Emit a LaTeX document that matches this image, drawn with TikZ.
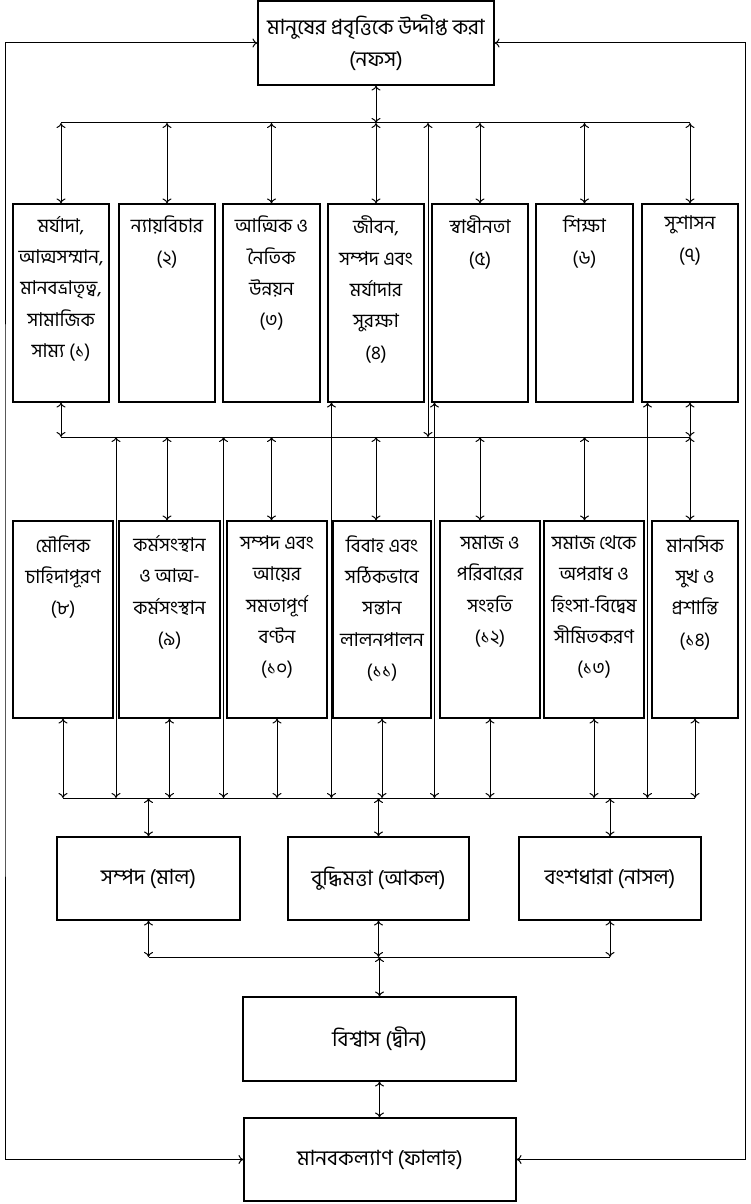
\documentclass[tikz,border=0pt]{standalone}
\usepackage{fontspec}
\newfontfamily\bn[Script=Bengali]{Hind Siliguri}
\usetikzlibrary{arrows.meta,calc}
\begin{document}
\begin{tikzpicture}[x=1pt,y=-1pt,
  >={To[length=5pt,width=9pt]},
  box/.style={draw, line width=1.1pt, inner sep=0pt},
  rowbox/.style={box, minimum height=198pt},
  row2box/.style={box, minimum height=197pt},
  txt/.style={font=\bn\fontsize{19}{31.3}\selectfont, align=center, inner sep=0pt},
  bigtxt/.style={font=\bn\fontsize{21}{32}\selectfont, align=center},
  con/.style={<->, line width=1pt},
  bus/.style={line width=1pt},
]
\useasboundingbox (0,0) rectangle (750,1204);

% top box
\node[box, minimum width=236pt, minimum height=84pt, bigtxt] (top) at (376,43) {মানুষের প্রবৃত্তিকে উদ্দীপ্ত করা\\(নফস)};

% row 1
\node[rowbox, minimum width=96pt] (b1) at (61,303) {};
\node[rowbox, minimum width=96pt] (b2) at (167,303) {};
\node[rowbox, minimum width=97pt] (b3) at (271.5,303) {};
\node[rowbox, minimum width=96pt] (b4) at (376,303) {};
\node[rowbox, minimum width=96pt] (b5) at (480,303) {};
\node[rowbox, minimum width=97pt] (b6) at (584.5,303) {};
\node[rowbox, minimum width=96pt] (b7) at (690,303) {};

\node[txt, anchor=north] (t1) at ($(b1.north)+(0,12.5)$) {মর্যাদা,\\আত্মসম্মান,\\মানবভ্রাতৃত্ব,\\সামাজিক\\সাম্য (১)};
\node[txt, anchor=north] (t2) at ($(b2.north)+(0,12.5)$) {ন্যায়বিচার\\(২)};
\node[txt, anchor=north] (t3) at ($(b3.north)+(0,12.5)$) {আত্মিক ও\\নৈতিক\\উন্নয়ন\\(৩)};
\node[txt, anchor=north] (t4) at ($(b4.north)+(0,12.5)$) {জীবন,\\সম্পদ এবং\\মর্যাদার\\সুরক্ষা\\(৪)};
\node[txt, anchor=north] (t5) at ($(b5.north)+(0,12.5)$) {স্বাধীনতা\\(৫)};
\node[txt, anchor=north] (t6) at ($(b6.north)+(0,12.5)$) {শিক্ষা\\(৬)};
\node[txt, anchor=north] (t7) at ($(b7.north)+(0,12.5)$) {সুশাসন\\(৭)};

% row 2
\node[row2box, minimum width=100pt] (b8) at (63,619.5) {};
\node[row2box, minimum width=101pt] (b9) at (169.5,619.5) {};
\node[row2box, minimum width=100pt] (b10) at (277,619.5) {};
\node[row2box, minimum width=98pt] (b11) at (382,619.5) {};
\node[row2box, minimum width=100pt] (b12) at (490,619.5) {};
\node[row2box, minimum width=100pt] (b13) at (594,619.5) {};
\node[row2box, minimum width=86pt] (b14) at (695,619.5) {};

\node[txt, anchor=north] (t8) at ($(b8.north)+(0,15)$) {মৌলিক\\চাহিদাপূরণ\\(৮)};
\node[txt, anchor=north] (t9) at ($(b9.north)+(0,15)$) {কর্মসংস্থান\\ও আত্ম-\\কর্মসংস্থান\\(৯)};
\node[txt, anchor=north] (t10) at ($(b10.north)+(0,15)$) {সম্পদ এবং\\আয়ের\\সমতাপূর্ণ\\বণ্টন\\(১০)};
\node[txt, anchor=north] (t11) at ($(b11.north)+(0,15)$) {বিবাহ এবং\\সঠিকভাবে\\সন্তান\\লালনপালন\\(১১)};
\node[txt, anchor=north] (t12) at ($(b12.north)+(0,15)$) {সমাজ ও\\পরিবারের\\সংহতি\\(১২)};
\node[txt, anchor=north] (t13) at ($(b13.north)+(0,15)$) {সমাজ থেকে\\অপরাধ ও\\হিংসা-বিদ্বেষ\\সীমিতকরণ\\(১৩)};
\node[txt, anchor=north] (t14) at ($(b14.north)+(0,15)$) {মানসিক\\সুখ ও\\প্রশান্তি\\(১৪)};

% row 3
\node[box, minimum width=183pt, minimum height=83pt, bigtxt] (A) at (148.5,878.5) {সম্পদ (মাল)};
\node[box, minimum width=181pt, minimum height=83pt, bigtxt] (B) at (378.5,878.5) {বুদ্ধিমত্তা (আকল)};
\node[box, minimum width=182pt, minimum height=83pt, bigtxt] (C) at (610,878.5) {বংশধারা (নাসল)};

\node[box, minimum width=273pt, minimum height=84pt, bigtxt] (D) at (379.5,1039) {বিশ্বাস (দ্বীন)};
\node[box, minimum width=272pt, minimum height=83pt, bigtxt] (E) at (380,1159.5) {মানবকল্যাণ (ফালাহ)};

% bus coordinates
\coordinate (tb) at (0,123);
\coordinate (mb) at (0,437);
\coordinate (bb) at (0,798);
\coordinate (lb) at (0,957);
\coordinate (L) at (5,600);
\coordinate (R) at (745,600);

% top connections
\draw[con] (top.south) -- (top.south |- tb);
\draw[bus] (b1.north |- tb) -- (b7.north |- tb);
\foreach \b in {b1,b2,b3,b4,b5,b6,b7} \draw[con] (\b.north |- tb) -- (\b.north);

% middle bus
\draw[bus] (b1.south |- mb) -- (b7.south |- mb);
\coordinate (g45) at ($(b4.east)!0.5!(b5.west)$);
\draw[con] (g45 |- tb) -- (g45 |- mb);
\draw[con] (b1.south) -- (b1.south |- mb);
\draw[con] (b7.south) -- (b7.south |- mb);
\foreach \u/\l in {b2/b9,b3/b10,b4/b11,b5/b12,b6/b13,b7/b14}
  \draw[con] (\u.south |- mb) -- (\u.south |- \l.north);

% through lines to bottom bus
\coordinate (g89) at ($(b8.east)!0.5!(b9.west)$);
\coordinate (g910) at ($(b9.east)!0.5!(b10.west)$);
\draw[con] (g89 |- mb) -- (g89 |- bb);
\draw[con] (g910 |- mb) -- (g910 |- bb);
\coordinate (p4) at ($(b4.south west)+(4,0)$);
\coordinate (p5) at ($(b5.south west)+(3,0)$);
\coordinate (p7) at ($(b7.south west)+(6,0)$);
\draw[con] (p4) -- (p4 |- bb);
\draw[con] (p5) -- (p5 |- bb);
\draw[con] (p7) -- (p7 |- bb);

% bottom bus
\draw[bus] (b8.south |- bb) -- (b14.south |- bb);
\foreach \b in {b8,b9,b10,b11,b12,b13,b14} \draw[con] (\b.south) -- (\b.south |- bb);

% row 3
\foreach \b in {A,B,C} {
  \draw[con] (\b.north |- bb) -- (\b.north);
  \draw[con] (\b.south) -- (\b.south |- lb);
}
\draw[bus] (A.south |- lb) -- (C.south |- lb);
\draw[con] (D.north |- lb) -- (D.north);
\draw[con] (D.south) -- (D.south |- E.north);

% outer loops
\draw[<->, line width=1pt] (top.west) -| (L) |- (E.west);
\draw[<->, line width=1pt] (top.east) -| (R) |- (E.east);
\end{tikzpicture}
\end{document}
